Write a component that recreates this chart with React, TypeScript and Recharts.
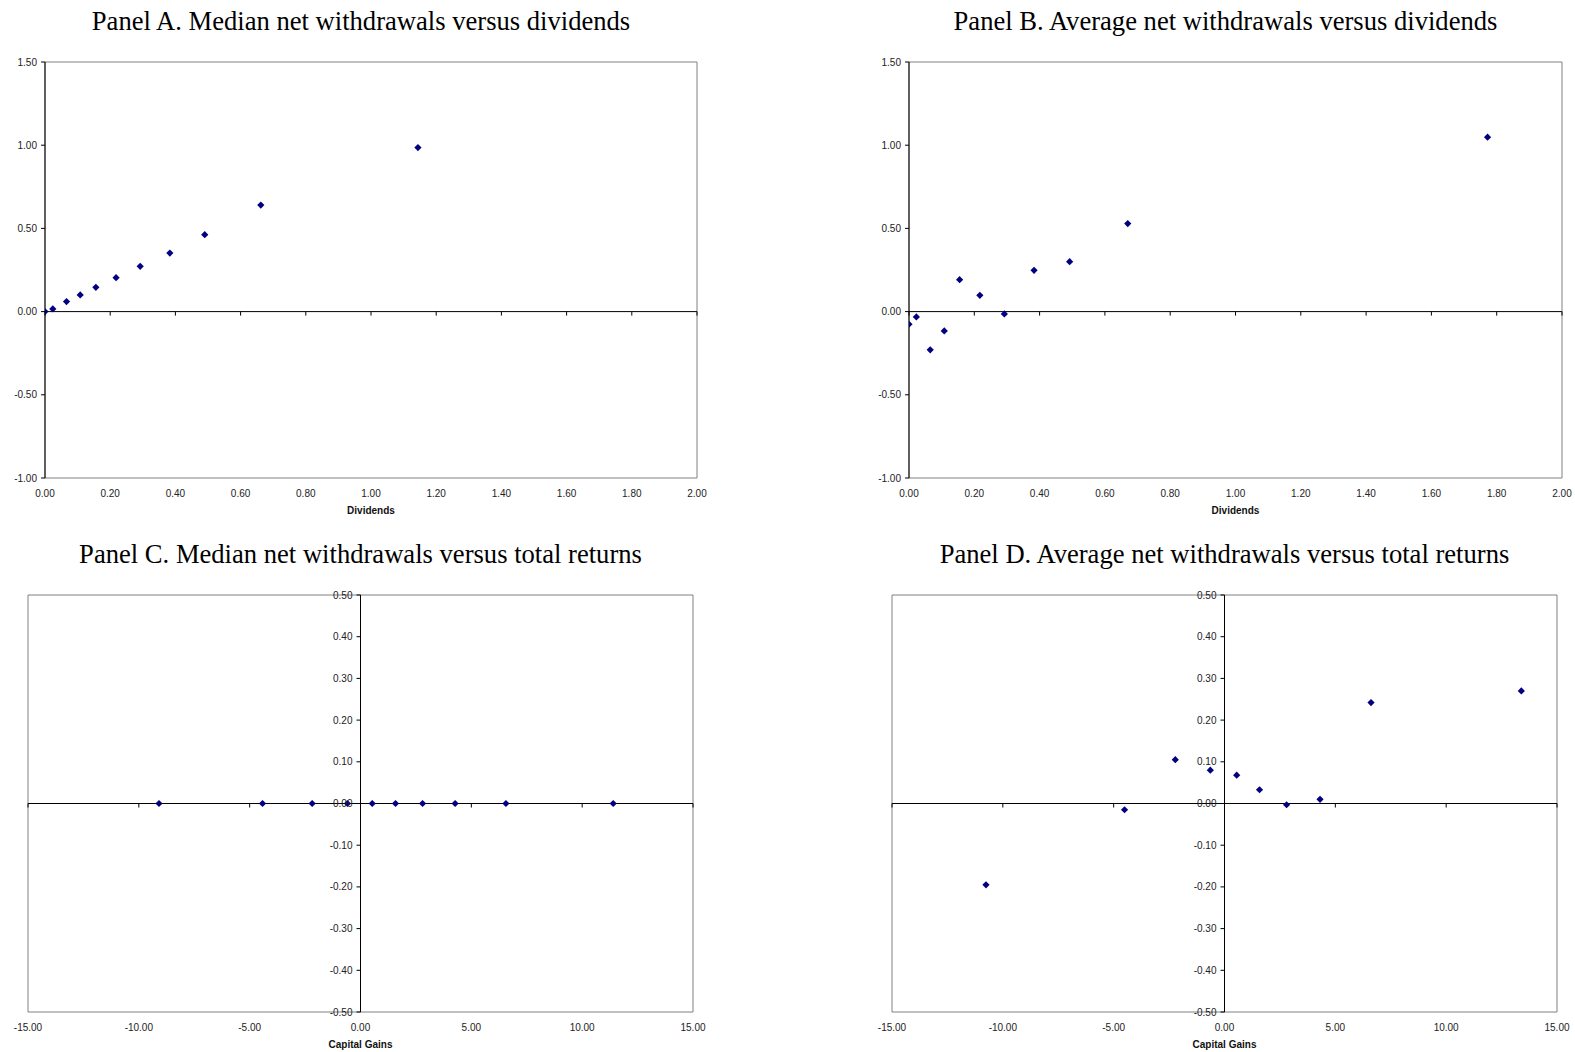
import React from 'react';
import { ScatterChart, Scatter, XAxis, YAxis, ReferenceLine, ReferenceArea } from 'recharts';

// ---- Data ----
const panelADividends = [0.0, 0.024, 0.066, 0.108, 0.156, 0.218, 0.292, 0.383, 0.49, 0.662, 1.144];
const panelAMedianNet = [0.0, 0.016, 0.06, 0.1, 0.146, 0.204, 0.272, 0.352, 0.462, 0.64, 0.986];

const panelBDividends = [0.0, 0.0225, 0.065, 0.108, 0.155, 0.217, 0.292, 0.383, 0.492, 0.67, 1.772];
const panelBAverageNet = [-0.076, -0.032, -0.23, -0.116, 0.192, 0.098, -0.014, 0.248, 0.3, 0.529, 1.048];

const panelCCapitalGains = [-9.09, -4.42, -2.18, -0.59, 0.53, 1.58, 2.8, 4.27, 6.56, 11.4];
const panelCMedianNet = [0, 0, 0, 0, 0, 0, 0, 0, 0, 0];

const panelDCapitalGains = [-10.76, -4.51, -2.22, -0.64, 0.55, 1.58, 2.8, 4.31, 6.61, 13.39];
const panelDAverageNet = [-0.195, -0.015, 0.105, 0.08, 0.068, 0.033, -0.003, 0.01, 0.242, 0.27];

const dividendTicks = [0, 0.2, 0.4, 0.6, 0.8, 1.0, 1.2, 1.4, 1.6, 1.8, 2.0];
const dividendYTicks = [-1.0, -0.5, 0, 0.5, 1.0, 1.5];
const gainTicks = [-15, -10, -5, 0, 5, 10, 15];
const gainYTicks = [-0.5, -0.4, -0.3, -0.2, -0.1, 0, 0.1, 0.2, 0.3, 0.4, 0.5];

const toPoints = (xs: number[], ys: number[]) => xs.map((x, i) => ({ x, y: ys[i] }));

const FONT = "'Liberation Sans', Arial, Helvetica, sans-serif";
const SERIF = "'Liberation Serif', 'Times New Roman', Times, serif";
const NAVY = '#000080';
const LABEL = '#222';
const fmt = (v: number) => Number(v).toFixed(2);

const ML = 45, MT = 10, MR = 20, MB = 40, XH = 30;

type Plot = { left: number; top: number; w: number; h: number };

type PanelProps = {
  title: string;
  titleY: number;
  titleShift: number;
  axisTitle: string;
  plot: Plot;
  xDomain: [number, number];
  yDomain: [number, number];
  xTicks: number[];
  yTicks: number[];
  data: { x: number; y: number }[];
  yAxisAtZero: boolean;
};

const Diamond = (props: any) => {
  const { cx, cy } = props;
  if (cx == null || cy == null) return null;
  const r = 3.6;
  return <path d={`M${cx},${cy - r}L${cx + r},${cy}L${cx},${cy + r}L${cx - r},${cy}Z`} fill={NAVY} />;
};

function Panel(p: PanelProps) {
  const { plot, xDomain, yDomain } = p;
  const zeroY = MT + (plot.h * (yDomain[1] - 0)) / (yDomain[1] - yDomain[0]);
  const zeroX = ML + (plot.w * (0 - xDomain[0])) / (xDomain[1] - xDomain[0]);
  const YW = p.yAxisAtZero ? 10 : 40;
  const centerX = plot.left + plot.w / 2;

  const renderXTick = (props: any) => {
    const { x, payload } = props;
    return (
      <g>
        <line x1={x} x2={x} y1={zeroY} y2={zeroY + 4} stroke="#000" strokeWidth={1} />
        <text x={x} y={MT + plot.h + 18.5} textAnchor="middle" fontSize={10} fontFamily={FONT} fill={LABEL}>
          {fmt(payload.value)}
        </text>
      </g>
    );
  };

  const renderYTickAtZero = (props: any) => {
    const { y, payload } = props;
    return (
      <g>
        <line x1={zeroX - 4} x2={zeroX} y1={y} y2={y} stroke="#000" strokeWidth={1} />
        <text x={zeroX - 8} y={y} dy="0.35em" textAnchor="end" fontSize={10} fontFamily={FONT} fill={LABEL}>
          {fmt(payload.value)}
        </text>
      </g>
    );
  };

  return (
    <>
      <div
        style={{
          position: 'absolute',
          left: centerX + p.titleShift - 450,
          width: 900,
          top: p.titleY - 16,
          height: 32,
          lineHeight: '32px',
          textAlign: 'center',
          fontFamily: SERIF,
          fontSize: 26.6,
          color: '#000',
          whiteSpace: 'nowrap',
        }}
      >
        {p.title}
      </div>
      <div style={{ position: 'absolute', left: plot.left - ML, top: plot.top - MT }}>
        <ScatterChart
          width={plot.w + ML + MR}
          height={plot.h + MT + MB}
          margin={{ top: MT, right: MR, bottom: MB - XH, left: ML - YW }}
        >
          <XAxis
            type="number"
            dataKey="x"
            domain={xDomain}
            ticks={p.xTicks}
            interval={0}
            allowDataOverflow
            height={XH}
            axisLine={false}
            tickLine={false}
            tickSize={0}
            tickMargin={0}
            tick={renderXTick}
          />
          {p.yAxisAtZero ? (
            <YAxis
              type="number"
              dataKey="y"
              domain={yDomain}
              ticks={p.yTicks}
              interval={0}
              allowDataOverflow
              width={YW}
              axisLine={false}
              tickLine={false}
              tickSize={0}
              tickMargin={0}
              tick={renderYTickAtZero}
            />
          ) : (
            <YAxis
              type="number"
              dataKey="y"
              domain={yDomain}
              ticks={p.yTicks}
              interval={0}
              allowDataOverflow
              width={YW}
              axisLine={{ stroke: '#000' }}
              tickLine={{ stroke: '#000' }}
              tickSize={4}
              tickMargin={4}
              tickFormatter={fmt}
              tick={{ fontSize: 10, fill: LABEL, fontFamily: FONT }}
            />
          )}
          <ReferenceArea
            x1={xDomain[0]}
            x2={xDomain[1]}
            y1={yDomain[0]}
            y2={yDomain[1]}
            fill="none"
            fillOpacity={0}
            stroke="#808080"
            strokeWidth={1}
          />
          <ReferenceLine y={0} stroke="#000" strokeWidth={1} />
          {p.yAxisAtZero && <ReferenceLine x={0} stroke="#000" strokeWidth={1} />}
          <Scatter data={p.data} fill={NAVY} shape={Diamond} isAnimationActive={false} />
        </ScatterChart>
      </div>
      <div
        style={{
          position: 'absolute',
          left: centerX - 100,
          width: 200,
          top: plot.top + plot.h + 33 - 7,
          height: 14,
          lineHeight: '14px',
          textAlign: 'center',
          fontFamily: FONT,
          fontWeight: 'bold',
          fontSize: 10,
          color: '#111',
        }}
      >
        {p.axisTitle}
      </div>
    </>
  );
}

export default function App() {
  return (
    <div style={{ position: 'absolute', left: 0, top: 0, width: 1575, height: 1052, background: '#fff', overflow: 'hidden' }}>
      <Panel
        title="Panel A. Median net withdrawals versus dividends"
        titleY={21}
        titleShift={-10}
        axisTitle="Dividends"
        plot={{ left: 45, top: 62, w: 652, h: 416 }}
        xDomain={[0, 2]}
        yDomain={[-1, 1.5]}
        xTicks={dividendTicks}
        yTicks={dividendYTicks}
        data={toPoints(panelADividends, panelAMedianNet)}
        yAxisAtZero={false}
      />
      <Panel
        title="Panel B. Average net withdrawals versus dividends"
        titleY={21}
        titleShift={-10}
        axisTitle="Dividends"
        plot={{ left: 909, top: 62, w: 653, h: 416 }}
        xDomain={[0, 2]}
        yDomain={[-1, 1.5]}
        xTicks={dividendTicks}
        yTicks={dividendYTicks}
        data={toPoints(panelBDividends, panelBAverageNet)}
        yAxisAtZero={false}
      />
      <Panel
        title="Panel C. Median net withdrawals versus total returns"
        titleY={554}
        titleShift={0}
        axisTitle="Capital Gains"
        plot={{ left: 28, top: 595, w: 665, h: 417 }}
        xDomain={[-15, 15]}
        yDomain={[-0.5, 0.5]}
        xTicks={gainTicks}
        yTicks={gainYTicks}
        data={toPoints(panelCCapitalGains, panelCMedianNet)}
        yAxisAtZero={true}
      />
      <Panel
        title="Panel D. Average net withdrawals versus total returns"
        titleY={554}
        titleShift={0}
        axisTitle="Capital Gains"
        plot={{ left: 892, top: 595, w: 665, h: 417 }}
        xDomain={[-15, 15]}
        yDomain={[-0.5, 0.5]}
        xTicks={gainTicks}
        yTicks={gainYTicks}
        data={toPoints(panelDCapitalGains, panelDAverageNet)}
        yAxisAtZero={true}
      />
    </div>
  );
}
